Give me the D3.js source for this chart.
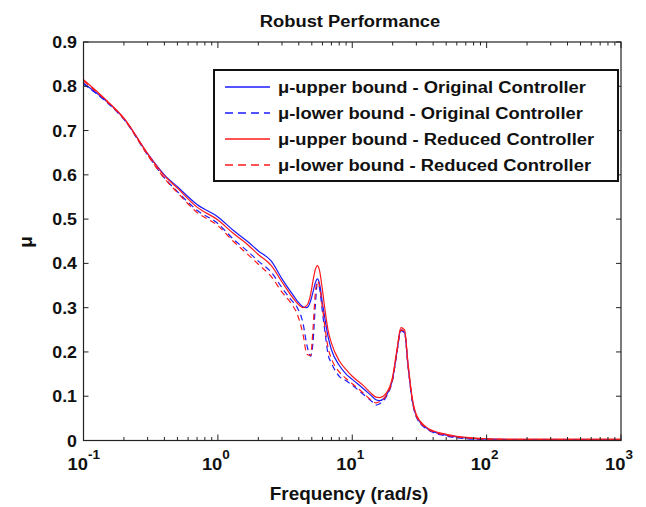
<!DOCTYPE html>
<html>
<head>
<meta charset="utf-8">
<script src="https://d3js.org/d3.v7.min.js"></script>
<style>
  body { margin: 0; background: #fff; }
  text { font-family: Arial, "Liberation Sans", sans-serif; font-weight: bold; fill: #111; }
</style>
</head>
<body>
<script>
// frequency grid (rad/s) shared by all four curves
var freq = [0.1, 0.15, 0.2, 0.3, 0.4, 0.5, 0.7, 1, 1.3, 1.7, 2, 2.5, 3, 3.5, 3.9, 4.3, 4.6, 4.9, 5.1, 5.3, 5.5, 5.7, 6, 6.3, 6.6, 7, 8, 9, 10, 12, 14, 15, 16, 18, 20, 21.5, 23, 24.5, 26, 28, 30, 35, 40, 50, 70, 100, 200, 500, 1000];

var upperOrig = [0.807, 0.765, 0.727, 0.648, 0.600, 0.573, 0.533, 0.505, 0.475, 0.447, 0.428, 0.405, 0.365, 0.335, 0.315, 0.302, 0.300, 0.315, 0.335, 0.355, 0.365, 0.355, 0.31, 0.27, 0.235, 0.205, 0.17, 0.15, 0.138, 0.118, 0.100, 0.092, 0.090, 0.103, 0.140, 0.200, 0.250, 0.245, 0.17, 0.09, 0.055, 0.030, 0.020, 0.012, 0.006, 0.003, 0.002, 0.002, 0.002];
var lowerOrig = [0.805, 0.763, 0.725, 0.645, 0.593, 0.562, 0.52, 0.49, 0.455, 0.425, 0.405, 0.38, 0.345, 0.318, 0.30, 0.265, 0.215, 0.19, 0.22, 0.30, 0.355, 0.345, 0.29, 0.24, 0.195, 0.175, 0.145, 0.135, 0.125, 0.105, 0.088, 0.080, 0.083, 0.100, 0.138, 0.198, 0.248, 0.243, 0.168, 0.088, 0.053, 0.028, 0.018, 0.010, 0.004, 0.002, 0.001, 0.001, 0.001];
var upperRed = [0.815, 0.767, 0.728, 0.648, 0.598, 0.570, 0.527, 0.498, 0.468, 0.440, 0.420, 0.395, 0.358, 0.328, 0.31, 0.30, 0.305, 0.33, 0.36, 0.385, 0.395, 0.385, 0.34, 0.29, 0.25, 0.22, 0.18, 0.16, 0.145, 0.125, 0.105, 0.098, 0.097, 0.108, 0.145, 0.205, 0.255, 0.25, 0.175, 0.095, 0.058, 0.032, 0.022, 0.014, 0.007, 0.004, 0.003, 0.003, 0.003];
var lowerRed = [0.812, 0.765, 0.726, 0.645, 0.592, 0.56, 0.515, 0.485, 0.45, 0.418, 0.398, 0.37, 0.335, 0.31, 0.285, 0.24, 0.195, 0.192, 0.25, 0.33, 0.36, 0.35, 0.30, 0.25, 0.21, 0.185, 0.155, 0.14, 0.128, 0.108, 0.09, 0.085, 0.088, 0.103, 0.14, 0.2, 0.25, 0.245, 0.17, 0.09, 0.055, 0.03, 0.02, 0.012, 0.006, 0.003, 0.002, 0.002, 0.002];

var legendLabels = ["\u03bc-upper bound - Original Controller", "\u03bc-lower bound - Original Controller",
                    "\u03bc-upper bound - Reduced Controller", "\u03bc-lower bound - Reduced Controller"];
var yTicks = [0, 0.1, 0.2, 0.3, 0.4, 0.5, 0.6, 0.7, 0.8, 0.9];
var xDecades = [-1, 0, 1, 2, 3];

var series = [
  {vals: upperOrig, color: "#1a1aff", dash: null},
  {vals: lowerOrig, color: "#1a1aff", dash: "6,4"},
  {vals: upperRed, color: "#ff1a1a", dash: null},
  {vals: lowerRed, color: "#ff1a1a", dash: "6,4"}
];

var W = 646, H = 507;
var plotL = 83.5, plotR = 621, plotT = 42, plotB = 440.5;

var svg = d3.select("body").append("svg").attr("width", W).attr("height", H);

var x = d3.scaleLog().domain([0.1, 1000]).range([plotL, plotR]);
var y = d3.scaleLinear().domain([0, 0.9]).range([plotB, plotT]);

// text a bit wider than the font, like the stretched source image
function label(px, py, str, size, anchor) {
  return svg.append("g").attr("transform", "translate(" + px + "," + py + ") scale(1.08,1)")
    .append("text").attr("text-anchor", anchor || "start").style("font-size", size + "px").text(str);
}

// curves
var line = d3.line()
  .x(function(d) { return x(d[0]); })
  .y(function(d) { return y(d[1]); })
  .curve(d3.curveMonotoneX);

series.forEach(function(s) {
  svg.append("path")
    .datum(freq.map(function(f, i) { return [f, s.vals[i]]; }))
    .attr("fill", "none")
    .attr("stroke", s.color)
    .attr("stroke-width", 1.2)
    .attr("stroke-dasharray", s.dash)
    .attr("d", line);
});

// ticks (inside, on all four sides)
var minor = [];
for (var e = -1; e < 3; e++) for (var k = 2; k <= 9; k++) minor.push(k * Math.pow(10, e));
var ax = svg.append("g").attr("stroke", "#222").attr("stroke-width", 1);
minor.forEach(function(v) {
  ax.append("line").attr("x1", x(v)).attr("x2", x(v)).attr("y1", plotB).attr("y2", plotB - 3.5);
  ax.append("line").attr("x1", x(v)).attr("x2", x(v)).attr("y1", plotT).attr("y2", plotT + 3.5);
});
xDecades.forEach(function(p) {
  var v = Math.pow(10, p);
  ax.append("line").attr("x1", x(v)).attr("x2", x(v)).attr("y1", plotB).attr("y2", plotB - 6);
  ax.append("line").attr("x1", x(v)).attr("x2", x(v)).attr("y1", plotT).attr("y2", plotT + 6);
});
yTicks.forEach(function(v) {
  ax.append("line").attr("x1", plotL).attr("x2", plotL + 5).attr("y1", y(v)).attr("y2", y(v));
  ax.append("line").attr("x1", plotR).attr("x2", plotR - 5).attr("y1", y(v)).attr("y2", y(v));
});
svg.append("rect")
  .attr("x", plotL).attr("y", plotT).attr("width", plotR - plotL).attr("height", plotB - plotT)
  .attr("fill", "none").attr("stroke", "#222").attr("stroke-width", 1.2);

// tick labels
yTicks.forEach(function(v) {
  label(77, y(v) + 6, v === 0 ? "0" : d3.format(".1f")(v), 16.5, "end");
});
xDecades.forEach(function(p) {
  var t = label(x(Math.pow(10, p)) - 16, 470, "", 17);
  t.append("tspan").text("10");
  t.append("tspan").attr("dy", -11).style("font-size", "12.5px").text(p);
});

// titles
label(350, 27, "Robust Performance", 17, "middle");
label(349, 500, "Frequency (rad/s)", 17.5, "middle");
svg.append("text").attr("transform", "translate(32,242) rotate(-90)").attr("text-anchor", "middle")
  .style("font-size", "19px").text("\u03bc");

// legend
svg.append("rect").attr("x", 214).attr("y", 70).attr("width", 404).attr("height", 111)
  .attr("fill", "#fff").attr("stroke", "#111").attr("stroke-width", 2);
series.forEach(function(s, i) {
  var ly = 87 + i * 26;
  svg.append("line").attr("x1", 225).attr("x2", 270).attr("y1", ly).attr("y2", ly)
    .attr("stroke", s.color).attr("stroke-width", 1.3).attr("stroke-dasharray", s.dash ? "8,5" : null);
  label(278, ly + 6, legendLabels[i], 17);
});
</script>
</body>
</html>
